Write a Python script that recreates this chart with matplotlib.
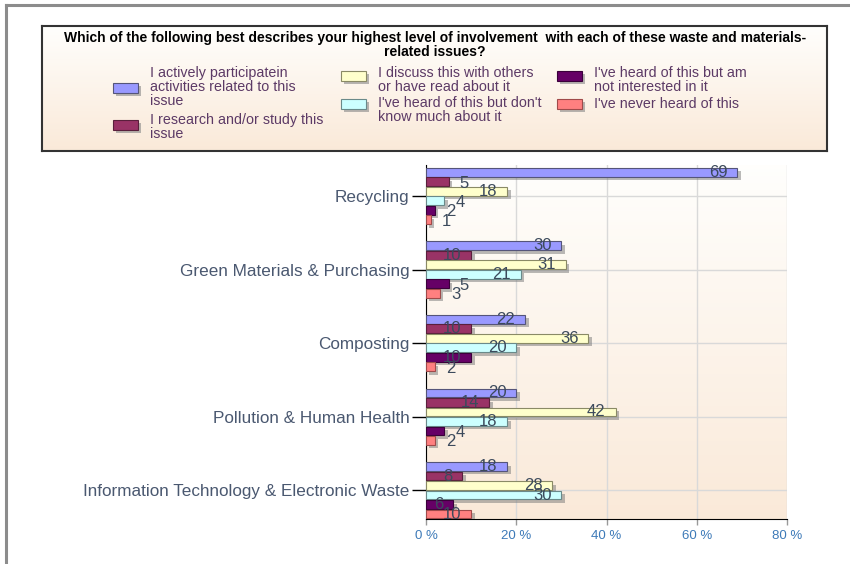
import matplotlib.pyplot as plt
import matplotlib.patheffects as pe
import numpy as np
from matplotlib.patches import Rectangle

plt.rcParams['font.family'] = ['Liberation Sans', 'DejaVu Sans']

categories = ["Recycling", "Green Materials & Purchasing", "Composting",
              "Pollution & Human Health", "Information Technology & Electronic Waste"]
series = ["I actively participatein\nactivities related to this\nissue",
          "I research and/or study this\nissue",
          "I discuss this with others\nor have read about it",
          "I've heard of this but don't\nknow much about it",
          "I've heard of this but am\nnot interested in it",
          "I've never heard of this"]
participate = [69, 30, 22, 20, 18]
research = [5, 10, 10, 14, 8]
discuss = [18, 31, 36, 42, 28]
heard_dont_know = [4, 21, 20, 18, 30]
not_interested = [2, 5, 10, 4, 6]
never_heard = [1, 3, 2, 2, 10]
values = [participate, research, discuss, heard_dont_know, not_interested, never_heard]
colors = ["#9999ff", "#993366", "#ffffcc", "#ccffff", "#660066", "#ff8080"]
edges = ["#55557a", "#5a1f3c", "#8a8a66", "#6a8a8a", "#3a003a", "#a04a4a"]
xticks = [0, 20, 40, 60, 80]
title = ("Which of the following best describes your highest level of involvement  with each of these waste and materials-\n"
         "related issues?")

fig = plt.figure(figsize=(8.5, 5.64), dpi=100)

# outer frame (top and left)
fig.add_artist(plt.Line2D([6 / 850, 1], [1 - 5 / 564] * 2, color="#8c8c8c", lw=2.2))
fig.add_artist(plt.Line2D([6 / 850] * 2, [0, 1 - 5 / 564], color="#8c8c8c", lw=2.2))

# legend box
lax = fig.add_axes([42 / 850, 1 - 151 / 564, 785 / 850, 125 / 564])
grad = np.linspace(0, 1, 100).reshape(-1, 1)
top, bot = np.array([1.0, 0.998, 0.99]), np.array([0.98, 0.915, 0.85])
img = top + grad[..., None] * (bot - top)
lax.imshow(img, aspect="auto", extent=[0, 785, 125, 0], zorder=0)
lax.set_xlim(0, 785)
lax.set_ylim(125, 0)
lax.set_xticks([])
lax.set_yticks([])
for s in lax.spines.values():
    s.set_color("#333333")
    s.set_linewidth(1.5)
lax.text(393, 19, title, ha="center", va="center", fontsize=10, fontweight="bold",
         linespacing=0.95, color="black")

# legend entries: (patch x, patch y, text y) in box pixel coordinates
entry_pos = [(71, 62, 61), (71, 99, 101), (299, 50, 54), (299, 78, 84), (515, 50, 54), (515, 78, 78)]
shadow = [pe.SimplePatchShadow(offset=(2, -2), shadow_rgbFace="#888888", alpha=0.6), pe.Normal()]
for (px, py, ty), lab, c, ec in zip(entry_pos, series, colors, edges):
    r = Rectangle((px, py - 5), 25, 10, facecolor=c, edgecolor=ec, lw=0.8, zorder=2)
    r.set_path_effects(shadow)
    lax.add_patch(r)
    lax.text(px + 37, ty, lab, ha="left", va="center", fontsize=10.3, color="#5c3a66",
             linespacing=1.0, zorder=3)

# main plot
ax = fig.add_axes([426 / 850, 1 - 519 / 564, 361 / 850, 354 / 564])
ax.imshow(img, aspect="auto", extent=[0, 80, 4.39, -0.42], zorder=0)
ax.set_xlim(0, 80)
ax.set_ylim(4.39, -0.42)

y = np.arange(len(categories))
step = 0.129
for i, (vals, c, ec) in enumerate(zip(values, colors, edges)):
    pos = y - 2.5 * step + i * step
    bars = ax.barh(pos, vals, height=0.12, color=c, edgecolor=ec, lw=0.8, zorder=3)
    for b in bars:
        b.set_path_effects([pe.SimplePatchShadow(offset=(2.5, -2.5), shadow_rgbFace="#777777", alpha=0.5),
                            pe.Normal()])
    for p, v in zip(pos, vals):
        if v > 5:
            ax.text(v - 2.2, p, str(v), ha="right", va="center", fontsize=12, color="#3c4a5c", zorder=5)
        else:
            ax.text(v + 2.5, p + 0.02, str(v), ha="left", va="center", fontsize=12, color="#3c4a5c", zorder=5)

ax.set_yticks(y)
ax.set_yticklabels(categories, fontsize=12.3, color="#4a5870")
ax.set_xticks(xticks)
ax.set_xticklabels([f"{t} %" for t in xticks], fontsize=9.5, color="#3d7ab8")
ax.grid(True, color="#d9d9d9", lw=1, zorder=1)
ax.set_axisbelow(True)
ax.spines["top"].set_visible(False)
ax.spines["right"].set_visible(False)
ax.spines["left"].set_color("black")
ax.spines["bottom"].set_color("black")
ax.tick_params(axis="y", length=10, width=1, color="black", pad=2)
ax.tick_params(axis="x", length=4, width=1, color="#999999", pad=4)

fig.savefig("out.png", dpi=100)
